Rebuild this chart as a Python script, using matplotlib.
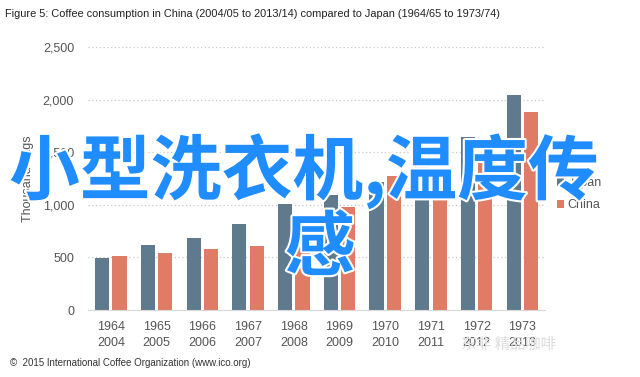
import numpy as np
import matplotlib
matplotlib.use("Agg")
from matplotlib import pyplot as plt
import matplotlib.patheffects as pe

years_japan = ["1964", "1965", "1966", "1967", "1968", "1969", "1970", "1971", "1972", "1973"]
years_china = ["2004", "2005", "2006", "2007", "2008", "2009", "2010", "2011", "2012", "2013"]
japan = [497, 618, 681, 820, 1005, 1097, 1220, 1380, 1640, 2044]
china = [513, 545, 580, 608, 640, 975, 1270, 1320, 1490, 1879]

plt.rcParams['font.family'] = ['Liberation Sans', 'DejaVu Sans']

fig = plt.figure(figsize=(6.4, 3.77), dpi=100)
ax = fig.add_axes([0.1375, 0.1777, 0.7145, 0.6976])

x = np.arange(len(japan))
ax.bar(x - 0.19, japan, width=0.31, color="#5f7a8c", label="Japan")
ax.bar(x + 0.19, china, width=0.31, color="#e07b66", label="China")

ax.set_xlim(-0.5, 9.5)
ax.set_ylim(0, 2500)
ax.set_yticks([0, 500, 1000, 1500, 2000, 2500])
ax.set_yticklabels(["0", "500", "1,000", "1,500", "2,000", "2,500"])
ax.set_xticks(x)
ax.set_xticklabels([a + "\n" + b for a, b in zip(years_japan, years_china)], linespacing=1.45)
ax.tick_params(axis="both", length=0, labelsize=9, colors="#555555")
ax.tick_params(axis="y", pad=10)
ax.tick_params(axis="x", pad=8)
ax.grid(axis="y", linestyle=(0, (1, 2)), color="#c8c8c8", linewidth=0.9)
ax.set_axisbelow(True)
for s in ["top", "right", "left"]:
    ax.spines[s].set_visible(False)
ax.spines["bottom"].set_color("#d9d9d9")
ax.set_ylabel("Thousand bags", fontsize=9, color="#555555", labelpad=6)

ax.legend(loc="center left", bbox_to_anchor=(1.0, 0.44), frameon=False, fontsize=9,
          handlelength=0.6, handleheight=0.6, handletextpad=0.3, labelspacing=0.8,
          labelcolor="#555555")

fig.text(0.008, 0.975, "Figure 5: Coffee consumption in China (2004/05 to 2013/14) compared to Japan (1964/65 to 1973/74)",
         fontsize=7.9, color="#222222", va="top")
fig.text(0.016, 0.03, "\u00a9  2015 International Coffee Organization (www.ico.org)", fontsize=7, color="#333333")
fig.text(0.72, 0.075, "东非 精品咖啡", fontsize=11, color="#dddddd", family=["Noto Sans CJK SC", "DejaVu Sans"])

halo = [pe.withStroke(linewidth=3, foreground="white")]
fig.text(0.475, 0.545, "小型洗衣机,温度传", fontsize=51, fontweight="bold", color="#1f8cff",
         ha="center", va="center", family=["Noto Sans CJK SC", "DejaVu Sans"], path_effects=halo)
fig.text(0.5, 0.34, "感", fontsize=51, fontweight="bold", color="#1f8cff",
         ha="center", va="center", family=["Noto Sans CJK SC", "DejaVu Sans"], path_effects=halo)

fig.savefig("out.png", dpi=100)
